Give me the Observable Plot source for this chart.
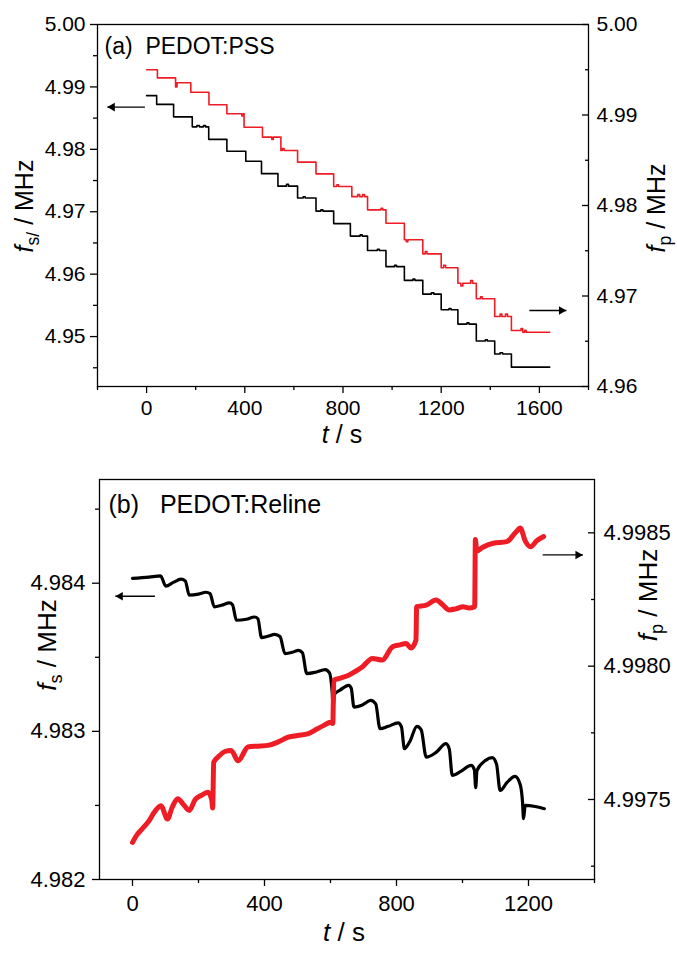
<!DOCTYPE html>
<html>
<head>
<meta charset="utf-8">
<script src="https://cdn.jsdelivr.net/npm/d3@7"></script>
<script src="https://cdn.jsdelivr.net/npm/@observablehq/plot@0.6"></script>
<style>
  body { margin: 0; background: #fff; }
  #wrap { position: relative; width: 677px; height: 954px; overflow: hidden;
          font-family: "Liberation Sans", Arial, Helvetica, sans-serif; color: #000; }
  .ttl { position: absolute; line-height: 1; white-space: nowrap; }
  .ttl sub { font-size: 0.7em; vertical-align: baseline; position: relative; top: 0.35em; }
</style>
</head>
<body>
<div id="wrap"></div>
<script>
// ---------------- data: panel (a) PEDOT:PSS ----------------
const aBlackT = [0, 41, 110, 186, 205, 215, 232, 240, 253, 327, 404, 468, 535, 570, 578, 615, 638, 646, 690, 710, 718, 762, 830, 870, 878, 900, 940, 948, 975, 1010, 1018, 1050, 1085, 1093, 1125, 1160, 1170, 1200, 1232, 1240, 1268, 1305, 1313, 1343, 1380, 1388, 1418, 1440, 1450, 1486, 1642];
const aBlackF = [4.9886, 4.9872, 4.9852, 4.9836, 4.9838, 4.9836, 4.9838, 4.9836, 4.9816, 4.9797, 4.9781, 4.9761, 4.9741, 4.9744, 4.9741, 4.9722, 4.9724, 4.9722, 4.9701, 4.9703, 4.9701, 4.9681, 4.9661, 4.9663, 4.9661, 4.9638, 4.9640, 4.9638, 4.9612, 4.9614, 4.9612, 4.9590, 4.9592, 4.9590, 4.9568, 4.9570, 4.9568, 4.9543, 4.9545, 4.9543, 4.9520, 4.9522, 4.9520, 4.9493, 4.9495, 4.9493, 4.9472, 4.9474, 4.9472, 4.9451, 4.9451];
const aRedT = [0, 44, 118, 124, 180, 254, 327, 388, 394, 397, 472, 510, 516, 547, 553, 560, 615, 690, 762, 775, 782, 836, 860, 868, 880, 888, 900, 955, 962, 975, 1050, 1058, 1064, 1125, 1135, 1142, 1200, 1210, 1218, 1268, 1280, 1288, 1320, 1328, 1343, 1360, 1367, 1418, 1440, 1447, 1462, 1470, 1486, 1525, 1532, 1540, 1546, 1642];
const aRedF = [4.9950, 4.9941, 4.9931, 4.99356, 4.99252, 4.99113, 4.99013, 4.9899, 4.99013, 4.98865, 4.98755, 4.9873, 4.98755, 4.98608, 4.9863, 4.98608, 4.98479, 4.98350, 4.98210, 4.9823, 4.98210, 4.98098, 4.9812, 4.98098, 4.9812, 4.98098, 4.97952, 4.9797, 4.97952, 4.97804, 4.97621, 4.9760, 4.97621, 4.97466, 4.9749, 4.97466, 4.97312, 4.9734, 4.97312, 4.97141, 4.9711, 4.97141, 4.9717, 4.97141, 4.96969, 4.9699, 4.96969, 4.96773, 4.9680, 4.96773, 4.9680, 4.96773, 4.96619, 4.9664, 4.96600, 4.9662, 4.96600, 4.96600];
const aXTicks = [0, 400, 800, 1200, 1600];
const aXMinor = [-200, 200, 600, 1000, 1400, 1800];
const aYLeftTicks = [4.95, 4.96, 4.97, 4.98, 4.99, 5.00];
const aYLeftMinor = [4.945, 4.955, 4.965, 4.975, 4.985, 4.995];
const aYRightTicks = [4.96, 4.97, 4.98, 4.99, 5.00];
const aYRightMinor = [4.965, 4.975, 4.985, 4.995];
const aArrowLeft = [{x1: -7, x2: -160, y: 4.98677}];
const aArrowRight = [{x1: 1559, x2: 1710, y: 4.96840}];

// ---------------- data: panel (b) PEDOT:Reline ----------------
const bBlackT = [0, 50, 85, 101, 125, 147, 160, 172, 200, 223, 235, 248, 270, 294, 303, 315, 345, 370, 380, 391, 410, 431, 447, 462, 485, 503, 515, 528, 555, 584, 597, 605, 608, 612, 630, 655, 663, 671, 695, 722, 737, 750, 775, 805, 815, 824, 840, 862, 875, 890, 920, 950, 960, 969, 995, 1026, 1036, 1040, 1044, 1070, 1090, 1103, 1114, 1135, 1159, 1175, 1182, 1185, 1190, 1220, 1248];
const bBlackF = [4.984032, 4.984041, 4.984049, 4.983980, 4.984007, 4.984027, 4.984015, 4.983919, 4.983926, 4.983939, 4.983930, 4.983840, 4.983851, 4.983867, 4.983855, 4.983750, 4.983757, 4.983772, 4.983760, 4.983633, 4.983642, 4.983655, 4.983640, 4.983525, 4.983534, 4.983547, 4.983530, 4.983390, 4.983399, 4.983417, 4.983395, 4.983266, 4.983169, 4.983250, 4.983280, 4.983311, 4.983290, 4.983164, 4.983176, 4.983209, 4.983185, 4.983018, 4.983034, 4.983057, 4.983030, 4.982883, 4.982930, 4.983034, 4.983010, 4.982826, 4.982858, 4.982917, 4.982880, 4.982703, 4.982730, 4.982770, 4.982740, 4.982620, 4.982736, 4.982804, 4.982822, 4.982780, 4.982601, 4.982655, 4.982696, 4.982640, 4.982520, 4.982410, 4.982500, 4.982493, 4.982478];
const bRedT = [0, 15, 30, 50, 66, 86, 106, 120, 137, 155, 172, 190, 208, 228, 240, 243, 246, 260, 280, 299, 320, 350, 380, 411, 440, 472, 500, 533, 560, 580, 600, 607, 610, 630, 655, 675, 696, 727, 757, 788, 810, 829, 844, 859, 861, 890, 920, 940, 960, 980, 1002, 1020, 1037, 1039, 1043, 1060, 1093, 1134, 1160, 1175, 1190, 1206, 1225, 1246];
const bRedF = [4.997339, 4.997370, 4.997391, 4.997420, 4.997452, 4.997477, 4.997427, 4.997470, 4.997503, 4.997480, 4.997459, 4.997500, 4.997515, 4.997527, 4.997500, 4.997468, 4.997640, 4.997660, 4.997680, 4.997684, 4.997645, 4.997697, 4.997700, 4.997703, 4.997715, 4.997734, 4.997740, 4.997747, 4.997765, 4.997778, 4.997790, 4.997785, 4.997947, 4.997955, 4.997966, 4.997980, 4.997997, 4.998029, 4.998023, 4.998073, 4.998080, 4.998085, 4.998068, 4.998098, 4.998223, 4.998229, 4.998248, 4.998230, 4.998211, 4.998215, 4.998223, 4.998218, 4.998223, 4.998475, 4.998432, 4.998445, 4.998461, 4.998467, 4.998500, 4.998518, 4.998470, 4.998448, 4.998470, 4.998486];
const bXTicks = [0, 400, 800, 1200];
const bXMinor = [200, 600, 1000, 1400];
const bYLeftTicks = [4.982, 4.983, 4.984];
const bYLeftMinor = [4.9825, 4.9835, 4.9845];
const bYRightTicks = [4.9975, 4.9980, 4.9985];
const bYRightMinor = [4.99725, 4.99775, 4.99825];
const bArrowLeft = [{x1: 68, x2: -52, y: 4.983912}];
const bArrowRight = [{x1: 1243, x2: 1365, y: 4.998417}];

// ---------------- helpers ----------------
const FONT = '"Liberation Sans", Arial, Helvetica, sans-serif';
const RED = "#ee1c25";
const zip = (T, F) => T.map((t, i) => ({t, f: F[i]}));
const wrap = document.getElementById("wrap");
const intFmt = d3.format("d");
const blank = () => "";

function arrowMarks(data, left) {
  return [
    Plot.link(data, {x1: "x1", x2: "x2", y1: "y", y2: "y", stroke: "#000", strokeWidth: 1.3}),
    Plot.dot(data, {x: "x2", y: "y", symbol: "triangle", r: 3.2, fill: "#000", stroke: "none",
                    rotate: left ? -90 : 90, dx: left ? 5 : -5})
  ];
}

function layer(svg, top) {
  svg.style.position = "absolute";
  svg.style.left = "0px";
  svg.style.top = top + "px";
  wrap.appendChild(svg);
}

function title(html, cx, cy, size, rotate) {
  const d = document.createElement("div");
  d.className = "ttl";
  d.innerHTML = html;
  d.style.fontSize = size + "px";
  d.style.left = cx + "px";
  d.style.top = cy + "px";
  d.style.transform = "translate(-50%,-50%)" + (rotate ? " rotate(-90deg)" : "");
  wrap.appendChild(d);
}

function panel(o) {
  const common = {
    width: 677, height: o.height,
    marginTop: o.mt, marginLeft: o.ml, marginRight: o.mr, marginBottom: o.mb,
    style: {fontFamily: FONT, fontSize: o.fs + "px", background: "transparent", color: "#000", overflow: "visible"}
  };
  const base = Plot.plot({
    ...common,
    x: {domain: o.xDomain},
    y: {domain: o.yLeftDomain},
    marks: [
      Plot.axisX({ticks: o.xTicks, tickSize: 7, tickPadding: o.xPad, tickFormat: intFmt, label: null, strokeWidth: 1.3}),
      Plot.axisX({ticks: o.xMinor, tickSize: 4, tickFormat: blank, label: null, strokeWidth: 1.3}),
      Plot.axisY({ticks: o.yLeftTicks, tickSize: 7, tickPadding: o.yPad, tickFormat: d3.format(o.yLeftFmt), label: null, strokeWidth: 1.3}),
      Plot.axisY({ticks: o.yLeftMinor, tickSize: 4, tickFormat: blank, label: null, strokeWidth: 1.3}),
      Plot.line(o.black, {x: "t", y: "f", curve: o.curve, stroke: "#000", strokeWidth: o.bw, strokeLinejoin: "round"}),
      ...arrowMarks(o.arrowLeft, true),
      Plot.text([o.tag], {frameAnchor: "top-left", textAnchor: "start", lineAnchor: "top",
                          dx: o.tagDx, dy: o.tagDy, fontSize: o.tagFs}),
      Plot.frame({stroke: "#000", strokeWidth: 1.3})
    ]
  });
  const over = Plot.plot({
    ...common,
    x: {domain: o.xDomain, axis: null},
    y: {domain: o.yRightDomain},
    marks: [
      Plot.axisY({anchor: "right", ticks: o.yRightTicks, tickSize: -7, tickPadding: o.yRPad,
                  tickFormat: d3.format(o.yRightFmt), label: null, strokeWidth: 1.3}),
      Plot.axisY({anchor: "right", ticks: o.yRightMinor, tickSize: -4, tickFormat: blank, label: null, strokeWidth: 1.3}),
      Plot.line(o.red, {x: "t", y: "f", curve: o.curve, stroke: RED, strokeWidth: o.rw, strokeLinejoin: "round"}),
      ...arrowMarks(o.arrowRight, false)
    ]
  });
  layer(base, o.top);
  layer(over, o.top);
}

// ---------------- panel (a) ----------------
panel({
  top: 0, height: 450, mt: 24, ml: 97, mr: 89, mb: 64, fs: 21,
  xDomain: [-200, 1800], xTicks: aXTicks, xMinor: aXMinor, xPad: 7,
  yLeftDomain: [4.942, 5.00], yLeftTicks: aYLeftTicks, yLeftMinor: aYLeftMinor, yLeftFmt: ".2f", yPad: 5,
  yRightDomain: [4.96, 5.00], yRightTicks: aYRightTicks, yRightMinor: aYRightMinor, yRightFmt: ".2f", yRPad: 15,
  black: zip(aBlackT, aBlackF), red: zip(aRedT, aRedF), curve: "step-after", bw: 1.6, rw: 1.6,
  arrowLeft: aArrowLeft, arrowRight: aArrowRight,
  tag: "(a)\u00a0\u00a0PEDOT:PSS", tagDx: 7, tagDy: 13, tagFs: 23
});

// ---------------- panel (b) ----------------
panel({
  top: 455, height: 499, mt: 24, ml: 99, mr: 83, mb: 75, fs: 22,
  xDomain: [-100, 1400], xTicks: bXTicks, xMinor: bXMinor, xPad: 9,
  yLeftDomain: [4.982, 4.9847], yLeftTicks: bYLeftTicks, yLeftMinor: bYLeftMinor, yLeftFmt: ".3f", yPad: 7,
  yRightDomain: [4.9972, 4.9987], yRightTicks: bYRightTicks, yRightMinor: bYRightMinor, yRightFmt: ".4f", yRPad: 16,
  black: zip(bBlackT, bBlackF), red: zip(bRedT, bRedF), curve: "monotone-x", bw: 3.2, rw: 5,
  arrowLeft: bArrowLeft, arrowRight: bArrowRight,
  tag: "(b)\u00a0\u00a0\u00a0PEDOT:Reline", tagDx: 9, tagDy: 16, tagFs: 25
});

// ---------------- axis titles ----------------
title("<i>f</i><sub>s/</sub> / MHz", 24, 206, 25, true);
title("<i>f</i><sub>p</sub> / MHz", 656, 208, 25, true);
title("<i>t</i> / s", 342, 434, 25, false);
title("<i>f</i><sub>s</sub> / MHz", 47, 645, 26, true);
title("<i>f</i><sub>p</sub> / MHz", 648, 595, 26, true);
title("<i>t</i> / s", 344, 932, 26, false);
</script>
</body>
</html>
